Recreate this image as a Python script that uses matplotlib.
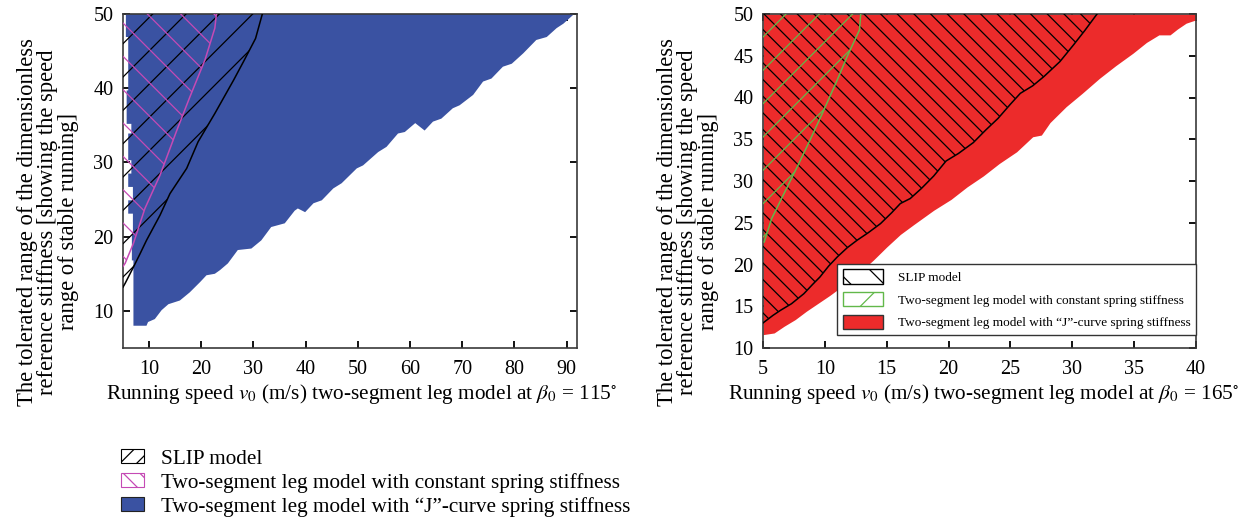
import numpy as np
import matplotlib
matplotlib.use("Agg")
import matplotlib.pyplot as plt
from matplotlib.patches import Patch

plt.rcParams["font.family"] = ["Liberation Serif", "DejaVu Serif"]
plt.rcParams["mathtext.fontset"] = "stix"
plt.rcParams["hatch.linewidth"] = 0.9

BLUE = "#3a52a2"
RED = "#ec2b2b"
MAGENTA = "#c54ab5"
GREEN = "#62b84a"
SPINE = "#3a3a3a"

K_TOP = 50.0

# ---- beta0 = 115 deg ----
# J-curve spring stiffness: lower edge of the stable region
jc115_v = [7.0, 9.5, 9.8, 11.1, 12.4, 13.7, 15.9, 17.8, 19.8, 21.0, 22.6, 23.6,
           25.1, 27.0, 29.6, 31.5, 33.4, 36.0, 37.9, 38.5, 39.9, 41.5, 43.1,
           45.3, 46.9, 49.8, 51.0, 53.9, 55.5, 57.7, 59.0, 61.0, 62.8, 64.4,
           66.0, 68.2, 69.5, 72.1, 74.0, 75.6, 77.8, 79.5, 81.7, 84.2, 86.2,
           88.1, 89.4, 91.3]
jc115_k = [8.0, 8.0, 8.5, 8.9, 10.1, 10.9, 11.4, 12.5, 13.9, 14.8, 15.0, 15.5,
           16.4, 18.2, 18.4, 19.5, 21.3, 21.8, 23.5, 23.8, 23.3, 24.5, 24.9,
           26.5, 27.2, 29.2, 29.6, 31.4, 32.1, 33.9, 34.1, 35.3, 34.3, 35.5,
           35.9, 37.3, 37.7, 39.1, 40.9, 41.3, 42.9, 43.3, 44.7, 46.5, 46.9,
           48.1, 48.7, 49.9]
# ragged low-speed edge: stiffness breakpoints and the speed held between them
jc115_edge_k = [50.0, 46.9, 39.7, 35.2, 33.9, 30.3, 28.5, 26.7, 24.9, 23.1, 20.4, 16.8, 8.0]
jc115_edge_v = [5.55, 6.0, 5.7, 6.6, 6.0, 6.6, 6.0, 6.9, 6.0, 6.9, 6.7, 7.0]

# SLIP model: upper edge of the stable region
slip115_v = [5.0, 5.4, 7.0, 8.2, 9.5, 12.1, 14.0, 17.2, 19.4, 22.6, 26.2, 28.1, 30.4, 31.7]
slip115_k = [13.2, 13.7, 15.9, 17.6, 19.5, 22.9, 25.8, 29.2, 32.8, 36.6, 41.1, 43.6, 46.7, 50.0]

# constant spring stiffness: upper edge of the stable region
const115_v = [5.0, 5.4, 7.0, 9.2, 12.1, 15.3, 17.8, 20.7, 22.6, 22.9]
const115_k = [16.0, 16.4, 19.1, 23.8, 28.3, 34.3, 38.8, 43.8, 48.1, 50.0]

# ---- beta0 = 165 deg ----
jc165_v = [5.0, 5.9, 6.7, 7.6, 8.5, 9.6, 10.4, 11.5, 12.7, 13.9, 15.0, 16.1,
           17.2, 18.8, 20.2, 21.5, 22.8, 24.1, 25.5, 26.8, 27.5, 28.2, 29.5,
           30.8, 32.2, 33.5, 34.9, 36.0, 37.0, 37.9, 38.5, 39.2, 40.0]
jc165_k = [11.6, 11.8, 12.6, 13.4, 14.4, 15.5, 16.3, 17.5, 18.9, 20.5, 22.1, 23.6,
           24.8, 26.5, 27.8, 29.3, 30.6, 32.1, 33.5, 35.3, 35.5, 37.0, 38.9,
           40.5, 42.3, 43.8, 45.3, 46.6, 47.5, 47.5, 48.2, 48.9, 49.3]

slip165_v = [5.0, 5.8, 6.4, 7.3, 8.3, 9.0, 9.6, 10.3, 11.0, 11.8, 12.6, 13.5,
             14.5, 15.4, 16.1, 16.9, 17.8, 18.8, 19.8, 20.8, 22.0, 23.0, 24.0,
             25.0, 25.8, 26.8, 27.7, 29.0, 30.1, 31.0, 32.0]
slip165_k = [13.0, 13.9, 14.5, 15.3, 16.5, 17.6, 18.5, 19.8, 20.9, 22.0, 22.9, 23.8,
             24.9, 26.2, 27.3, 27.9, 29.1, 30.6, 32.4, 33.3, 34.6, 36.1, 37.5,
             39.2, 40.5, 41.4, 42.5, 44.3, 46.3, 48.0, 50.0]

const165_v = [5.1, 5.7, 6.7, 7.9, 8.8, 9.8, 11.0, 11.8, 12.8, 12.9]
const165_k = [22.7, 25.5, 28.5, 32.1, 34.9, 38.1, 42.1, 44.9, 48.1, 50.0]

labels = ["SLIP model",
          "Two-segment leg model with constant spring stiffness",
          "Two-segment leg model with \u201cJ\u201d-curve spring stiffness"]
ylabel = ("The tolerated range of the dimensionless\n"
          "reference stiffness [showing the speed\n"
          "range of stable running]")


def style_axes(ax):
    for s in ax.spines.values():
        s.set_color(SPINE)
        s.set_linewidth(1.2)
    ax.tick_params(direction="in", top=True, right=True, length=5, width=1.4,
                   labelsize=14.5, color="#111111", pad=7)
    ax.tick_params(axis="x", pad=9)


def hatched_region(ax, v, k, vmin, color, hatch):
    ax.fill_betweenx(k, vmin, v, facecolor="none", edgecolor=color,
                     hatch=hatch, linewidth=0, zorder=3)
    ax.plot(v, k, color=color, lw=1.1, zorder=4)


W, H = 1257, 525
fig = plt.figure(figsize=(W / 100, H / 100), dpi=100)

# left panel
ax1 = fig.add_axes([123 / W, 1 - 348 / H, 454 / W, 334 / H])
ax1.set_xlim(5, 92)
ax1.set_ylim(5, 50)
vs, ks = [], []
for i, v in enumerate(jc115_edge_v):
    vs += [v, v]
    ks += [jc115_edge_k[i], jc115_edge_k[i + 1]]
vs += jc115_v + [jc115_v[-1]]
ks += jc115_k + [K_TOP]
ax1.fill(vs, ks, color=BLUE, lw=0, zorder=2)
hatched_region(ax1, slip115_v, slip115_k, 5, "black", "/")
hatched_region(ax1, const115_v, const115_k, 5, MAGENTA, "\\")
ax1.set_xticks(range(10, 91, 10))
ax1.set_yticks(range(10, 51, 10))
style_axes(ax1)
ax1.set_xlabel(r"Running speed $v_0$ (m/s) two-segment leg model at $\beta_0$ = 115$^{\circ}$",
               fontsize=15.3)
ax1.xaxis.set_label_coords(0.525, -0.102, transform=ax1.transAxes)
ax1.xaxis.label.set_va("top")

# right panel
ax2 = fig.add_axes([763 / W, 1 - 348 / H, 433 / W, 334 / H])
ax2.set_xlim(5, 40)
ax2.set_ylim(10, 50)
ax2.fill_between(jc165_v, jc165_k, K_TOP, color=RED, lw=0, zorder=2)
hatched_region(ax2, slip165_v, slip165_k, 5, "black", "\\\\")
hatched_region(ax2, const165_v, const165_k, 5, GREEN, "/")
ax2.set_xticks(range(5, 41, 5))
ax2.set_yticks(range(10, 51, 5))
style_axes(ax2)
ax2.set_xlabel(r"Running speed $v_0$ (m/s) two-segment leg model at $\beta_0$ = 165$^{\circ}$",
               fontsize=15.3)
ax2.xaxis.set_label_coords(0.51, -0.102, transform=ax2.transAxes)
ax2.xaxis.label.set_va("top")

for xc in (48, 688):
    fig.text(xc / W, 1 - 222 / H, ylabel, rotation=90, ha="center", va="center",
             multialignment="center", fontsize=16.3, linespacing=0.95)

# legends
h115 = [Patch(facecolor="white", edgecolor="black", hatch="//", lw=0.8),
        Patch(facecolor="white", edgecolor=MAGENTA, hatch="\\\\", lw=0.8),
        Patch(facecolor=BLUE, edgecolor="#222222", lw=0.8)]
fig.legend(h115, labels, loc="upper left", bbox_to_anchor=(121 / W, 1 - 449 / H),
           frameon=False, fontsize=15.3, handlelength=1.1, handleheight=0.65,
           handletextpad=0.8, labelspacing=0.2, borderaxespad=0, borderpad=0)

h165 = [Patch(facecolor="white", edgecolor="black", hatch="\\", lw=1.0),
        Patch(facecolor="white", edgecolor=GREEN, hatch="/", lw=1.0),
        Patch(facecolor=RED, edgecolor="#333333", lw=1.0)]
leg = ax2.legend(h165, labels, loc="lower right", bbox_to_anchor=(1.0, 0.04),
                 fontsize=9.5, handlelength=3.1, handleheight=1.3,
                 handletextpad=1.1, labelspacing=0.62, borderaxespad=0,
                 fancybox=False, framealpha=1, edgecolor="#333333")
leg.get_frame().set_linewidth(1.0)
leg.set_zorder(6)

fig.savefig("out.png", dpi=100, facecolor="white")
